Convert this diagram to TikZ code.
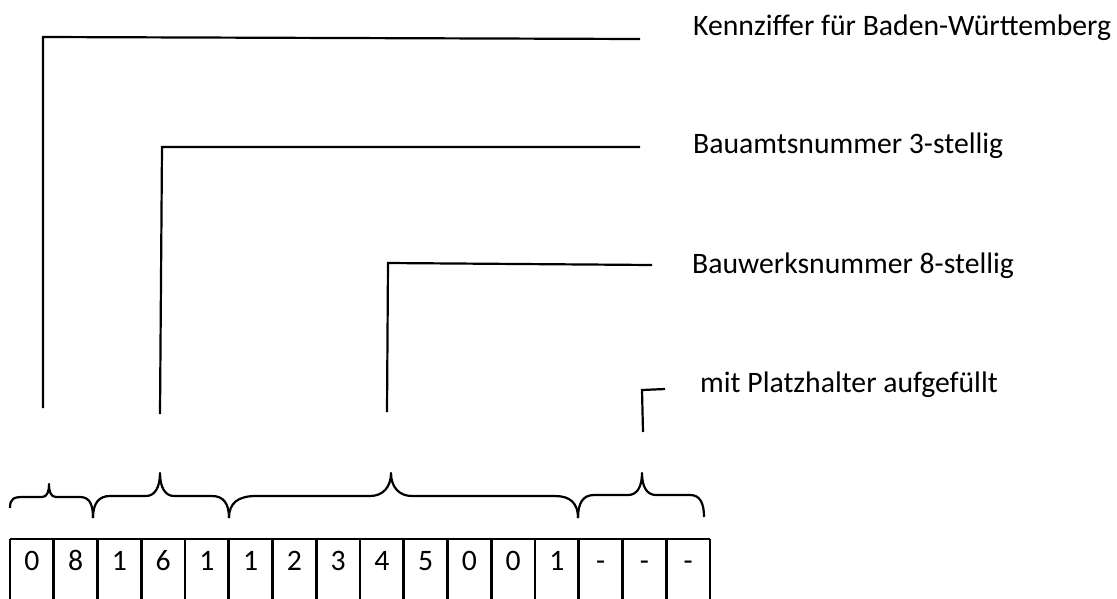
\documentclass[tikz,border=0pt]{standalone}
\usepackage{fontspec}
\setmainfont{Carlito}
\begin{document}
\begin{tikzpicture}[x=1pt,y=-1pt,
  lbl/.style={anchor=base west,inner sep=0pt,font=\fontsize{29.7}{30}\selectfont},
  digit/.style={anchor=base,inner sep=0pt,font=\fontsize{29.7}{30}\selectfont},
  ln/.style={line width=2.2pt,line cap=butt},
  cell/.style={line width=2.8pt}]
\useasboundingbox (0,0) rectangle (1117,598);
\clip (0,0) rectangle (1117,598);
% labels
\node[lbl] (t1) at (693,35) {Kennziffer für Baden-Württemberg};
\node[lbl] (t2) at (693,153) {Bauamtsnummer 3-stellig};
\node[lbl] (t3) at (692,273) {Bauwerksnummer 8-stellig};
\node[lbl] (t4) at (700,392) {mit Platzhalter aufgefüllt};
% leader lines
\coordinate (a1) at (43,408); \coordinate (b1) at (43,37); \coordinate (c1) at (640,39);
\coordinate (a2) at (160,414); \coordinate (b2) at (162,147); \coordinate (c2) at (640,147);
\coordinate (a3) at (387,412); \coordinate (b3) at (388,263); \coordinate (c3) at (652,265);
\coordinate (a4) at (643,432); \coordinate (b4) at (642,390); \coordinate (c4) at (665,389);
\draw[ln] (a1) -- (b1) -- (c1);
\draw[ln] (a2) -- (b2) -- (c2);
\draw[ln] (a3) -- (b3) -- (c3);
\draw[ln] (a4) -- (b4) -- (c4);
% braces
\draw[ln,line join=round]
  (10,508) .. controls (10,498) and (14,497) .. (24,497) -- (42,497)
  .. controls (47,497) and (49,492) .. (49,484)
  .. controls (49,492) and (51,497) .. (56,497) -- (80,497)
  .. controls (90,497) and (93,505) .. (93,518);
\draw[ln,line join=round]
  (93,518) .. controls (93,503) and (99,496) .. (110,496) -- (146,496)
  .. controls (155,496) and (160,487) .. (160,473)
  .. controls (160,487) and (165,496) .. (174,496) -- (212,496)
  .. controls (223,496) and (229,503) .. (229,518);
\draw[ln,line join=round]
  (229,518) .. controls (229,503) and (238,496) .. (256,496) -- (370,496)
  .. controls (383,496) and (391,487) .. (391,473)
  .. controls (391,487) and (399,496) .. (412,496) -- (555,496)
  .. controls (570,496) and (578,503) .. (578,518);
\draw[ln,line join=round]
  (578,518) .. controls (578,503) and (583,495) .. (594,495) -- (628,495)
  .. controls (637,495) and (642,487) .. (642,473)
  .. controls (642,487) and (647,495) .. (656,495) -- (690,495)
  .. controls (700,495) and (704,503) .. (704,517);
% cells
\draw[cell] (10,539) -- (710,539);
\foreach \i in {0,...,16} {
  \draw[cell] ({10+43.75*\i},539) -- ({10+43.75*\i},600);
}
\foreach \d [count=\i from 0] in {0,8,1,6,1,1,2,3,4,5,0,0,1,-,-,-} {
  \node[digit] (d\i) at ({10+43.75*\i+21.9},570) {\d};
}
\end{tikzpicture}
\end{document}
